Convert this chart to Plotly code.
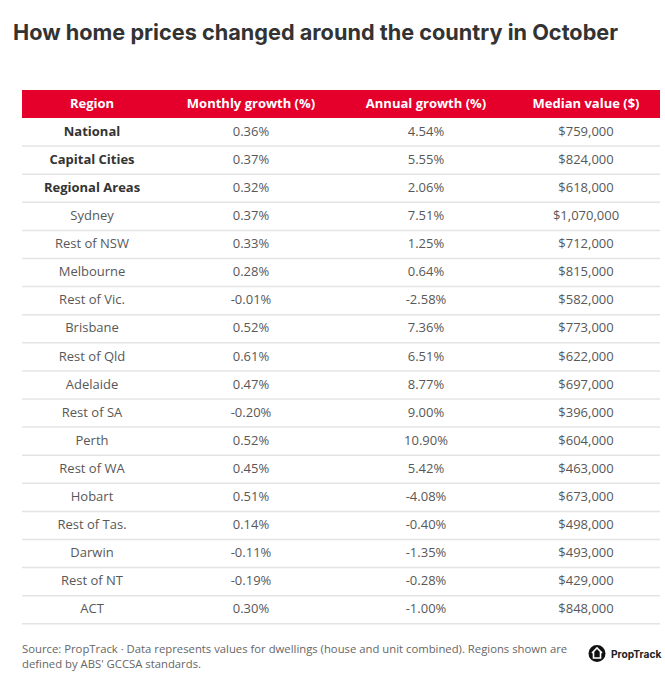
import plotly.graph_objects as go

W, H = 665, 688

title = "How home prices changed around the country in October"
headers = ["Region", "Monthly growth (%)", "Annual growth (%)", "Median value ($)"]
regions = ["National", "Capital Cities", "Regional Areas", "Sydney", "Rest of NSW",
           "Melbourne", "Rest of Vic.", "Brisbane", "Rest of Qld", "Adelaide",
           "Rest of SA", "Perth", "Rest of WA", "Hobart", "Rest of Tas.",
           "Darwin", "Rest of NT", "ACT"]
bold_regions = ["National", "Capital Cities", "Regional Areas"]
monthly = ["0.36%", "0.37%", "0.32%", "0.37%", "0.33%", "0.28%", "-0.01%", "0.52%",
           "0.61%", "0.47%", "-0.20%", "0.52%", "0.45%", "0.51%", "0.14%", "-0.11%",
           "-0.19%", "0.30%"]
annual = ["4.54%", "5.55%", "2.06%", "7.51%", "1.25%", "0.64%", "-2.58%", "7.36%",
          "6.51%", "8.77%", "9.00%", "10.90%", "5.42%", "-4.08%", "-0.40%", "-1.35%",
          "-0.28%", "-1.00%"]
median = ["$759,000", "$824,000", "$618,000", "$1,070,000", "$712,000", "$815,000",
          "$582,000", "$773,000", "$622,000", "$697,000", "$396,000", "$604,000",
          "$463,000", "$673,000", "$498,000", "$493,000", "$429,000", "$848,000"]
source = ("Source: PropTrack · Data represents values for dwellings (house and unit combined). "
          "Regions shown are<br>defined by ABS' GCCSA standards.")
brand = "PropTrack"

# layout constants (pixels)
TL, TR, TOP = 22, 660, 90
HDR_H, ROW_H = 28, 28.1
COLW = [140, 178, 172, 148]
RED = "#E4002B"
FONT = "Open Sans"
TXT = "#585858"


def px(x):
    return x / W


def py(y):
    return 1 - y / H


plain_regions = ["" if r in bold_regions else r for r in regions]
strong_regions = [r if r in bold_regions else "" for r in regions]

fig = go.Figure()
fig.add_trace(go.Table(
    domain=dict(x=[px(TL), px(TR)], y=[0.02, py(TOP)]),
    columnwidth=COLW,
    header=dict(
        values=headers,
        fill_color=RED,
        line=dict(color=RED, width=0),
        align="center",
        font=dict(family=FONT, size=13, color="white", weight=700),
        height=HDR_H,
    ),
    cells=dict(
        values=[plain_regions, monthly, annual, median],
        fill_color="white",
        line=dict(color="white", width=0),
        align="center",
        font=dict(family=FONT, size=13, color=TXT),
        height=ROW_H,
    ),
))
# bold summary rows in the region column
fig.add_trace(go.Table(
    domain=dict(x=[px(TL), px(TL + COLW[0])], y=[0.02, py(TOP)]),
    header=dict(values=[""], fill_color="rgba(0,0,0,0)",
                line=dict(color="rgba(0,0,0,0)", width=0), height=HDR_H),
    cells=dict(
        values=[strong_regions],
        fill_color="rgba(0,0,0,0)",
        line=dict(color="rgba(0,0,0,0)", width=0),
        align="center",
        font=dict(family=FONT, size=13, color="#333333", weight=700),
        height=ROW_H,
    ),
))

shapes = []
for i in range(len(regions)):
    y = TOP + HDR_H + ROW_H * (i + 1)
    shapes.append(dict(type="line", xref="paper", yref="paper",
                       x0=px(TL), x1=px(TR), y0=py(y), y1=py(y),
                       line=dict(color="#e4e4e4", width=1.5)))

# logo: circle with a house
cx, cy, r = 597, 653.5, 8.5
shapes.append(dict(type="circle", xref="paper", yref="paper",
                   x0=px(cx - r), x1=px(cx + r), y0=py(cy + r), y1=py(cy - r),
                   fillcolor="#111111", line=dict(color="#111111", width=0)))
house = [(cx - 5, cy - 0.5), (cx, cy - 5.5), (cx + 5, cy - 0.5)]
walls = [(cx - 3.5, cy - 1.8), (cx - 3.5, cy + 4.5), (cx + 3.5, cy + 4.5), (cx + 3.5, cy - 1.8)]


def path(pts):
    return "M " + " L ".join(f"{px(a):.5f},{py(b):.5f}" for a, b in pts)


shapes.append(dict(type="path", xref="paper", yref="paper", path=path(house),
                   line=dict(color="white", width=1.6)))
shapes.append(dict(type="path", xref="paper", yref="paper", path=path(walls),
                   line=dict(color="white", width=1.6)))

annotations = [
    dict(text=f"<b>{title}</b>", x=px(11), y=py(32), xref="paper", yref="paper",
         xanchor="left", yanchor="middle", showarrow=False,
         font=dict(family="Inter", size=21.7, color="#333333")),
    dict(text=source, x=px(20), y=py(656), xref="paper", yref="paper",
         xanchor="left", yanchor="middle", align="left", showarrow=False,
         font=dict(family=FONT, size=11.3, color="#666666")),
    dict(text=f"<b>{brand}</b>", x=px(608.5), y=py(653.5), xref="paper", yref="paper",
         xanchor="left", yanchor="middle", showarrow=False,
         font=dict(family="Inter", size=10.2, color="#222222")),
]

fig.update_layout(width=W, height=H, margin=dict(l=0, r=0, t=0, b=0),
                  paper_bgcolor="white", plot_bgcolor="white",
                  shapes=shapes, annotations=annotations)

fig.write_html("out.html", config={"displayModeBar": False},
               post_script="document.body.style.margin='0px';")
